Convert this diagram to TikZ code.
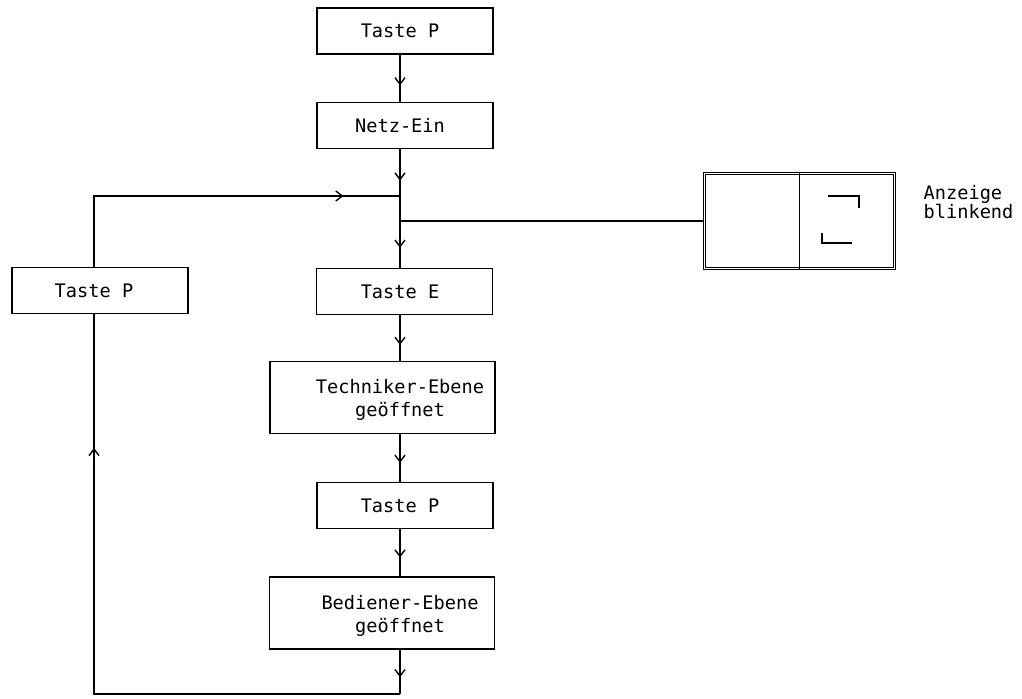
\documentclass[tikz,border=0pt]{standalone}
\usepackage{fontspec}
\setmonofont{DejaVu Sans Mono}
\usetikzlibrary{arrows.meta,decorations.markings}

\begin{document}
\begin{tikzpicture}[font=\ttfamily\fontsize{10.6}{13}\selectfont, line width=0.8pt,
    sbox/.style={draw, minimum width=3.52cm, minimum height=0.92cm, inner sep=0pt},
    wbox/.style={draw, minimum width=4.5cm, minimum height=1.44cm, inner sep=0pt},
    txt/.style={align=center, inner sep=0pt},
    midarrow/.style={postaction={decorate, decoration={markings,
        mark=at position #1 with {\arrow{Straight Barb[length=1.3mm,width=2mm]}}}}}]
    \useasboundingbox (0,0) rectangle (20.44,-13.96);
    \coordinate (spine) at (8.0,0);
    \coordinate (lspine) at (1.88,0);

    % Kette in der Mitte
    \node[sbox] (p1) at (8.10,-0.62) {};
    \node[txt] (p1t) at (p1.center -| spine) {Taste P};
    \node[sbox] (netz) at (8.10,-2.51) {};
    \node[txt] (netzt) at (netz.center -| spine) {Netz-Ein};
    \node[sbox] (tE) at (8.09,-5.83) {};
    \node[txt] (tEt) at (tE.center -| spine) {Taste E};
    \node[wbox] (tech) at (7.65,-7.95) {};
    \node[txt] (techt) at ([yshift=-0.05cm]tech.center -| spine) {Techniker-Ebene\\geöffnet};
    \node[sbox] (p2) at (8.10,-10.11) {};
    \node[txt] (p2t) at (p2.center -| spine) {Taste P};
    \node[wbox] (bed) at (7.64,-12.26) {};
    \node[txt] (bedt) at ([yshift=-0.05cm]bed.center -| spine) {Bediener-Ebene\\geöffnet};

    % Ruecksprung links
    \node[sbox] (pL) at (2.0,-5.81) {};
    \node[txt] (pLt) at (pL.center -| lspine) {Taste P};

    % Anzeige
    \node[draw, double, line width=0.6pt, double distance=0.9pt, minimum width=3.80cm,
        minimum height=1.9cm, inner sep=0pt] (disp) at (15.99,-4.42) {};
    \draw (disp.north) -- (disp.south);
    \draw[line width=1pt] ([shift={(0.57,0.5)}]disp.center) -- ++(0.62,0) -- ++(0,-0.24);
    \draw[line width=1pt] ([shift={(0.45,-0.24)}]disp.center) -- ++(0,-0.2) -- ++(0.6,0);
    \node[txt, align=left, anchor=west, font=\ttfamily\fontsize{10.6}{11}\selectfont] (note)
        at (18.46,-4.04) {Anzeige\\blinkend};

    \coordinate (j1) at (8.0,-3.92);
    \coordinate (j2) at (disp.west -| spine);
    \coordinate (bot) at (8.0,-13.88);
    \coordinate (lbot) at (1.88,-13.88);
    \coordinate (ltop) at (1.88,-3.92);

    \draw[midarrow=0.65] (p1.south -| spine) -- (netz.north -| spine);
    \draw[midarrow=0.67] (netz.south -| spine) -- (j1);
    \draw (j1) -- (j2);
    \draw[midarrow=0.57] (j2) -- (tE.north -| spine);
    \draw[midarrow=0.65] (tE.south -| spine) -- (tech.north -| spine);
    \draw[midarrow=0.6] (tech.south -| spine) -- (p2.north -| spine);
    \draw[midarrow=0.6] (p2.south -| spine) -- (bed.north -| spine);
    \draw[midarrow=0.62] (bed.south -| spine) -- (bot);
    \draw[midarrow=0.805] (bot) -- (lbot) -- (pL.south -| lspine);
    \draw[midarrow=0.85] (pL.north -| lspine) -- (ltop) -- (j1);
    \draw (j2) -- (disp.west);
\end{tikzpicture}
\end{document}
